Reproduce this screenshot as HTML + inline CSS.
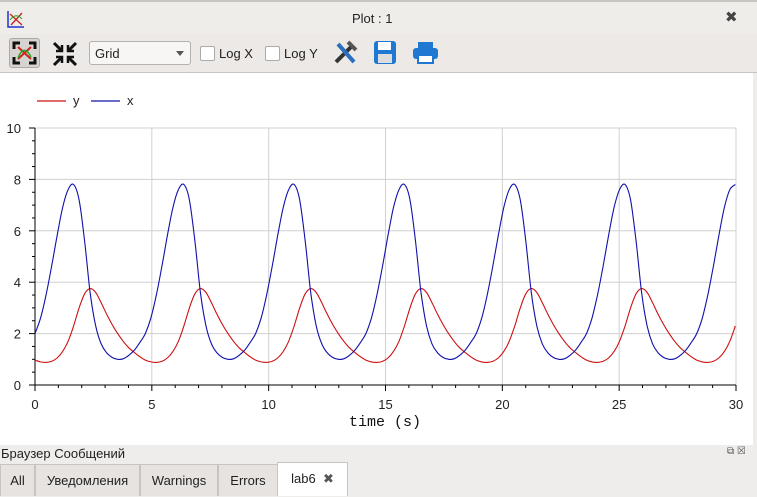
<!DOCTYPE html>
<html><head><meta charset="utf-8"><style>
body{margin:0;width:757px;height:496px;overflow:hidden;background:#efedeb;font-family:"Liberation Sans","DejaVu Sans",sans-serif;font-size:13px;color:#222;position:relative}
.abs{position:absolute}
.tab{position:absolute;top:464px;height:32px;line-height:32px;border:1px solid #c8c5c1;border-bottom:none;background:#e6e3e0;text-align:center;font-size:13px;box-sizing:border-box}
.cb{position:absolute;top:46px;width:13px;height:13px;border:1px solid #aaa;background:#fff;border-radius:2px}
</style></head><body>
<div class="abs" style="left:0;top:0;width:757px;height:34px;background:#efedea;border-top:2px solid #c9c6c2;box-sizing:border-box">
 <svg class="abs" style="left:7px;top:8px" width="18" height="18"><path d="M1 1V17H17" stroke="#2233cc" stroke-width="1.5" fill="none"/><path d="M3 4L15 15M15 3L4 15" stroke="#cc2222" stroke-width="1.3"/><path d="M3 10Q9 2 15 9" stroke="#22aa22" fill="none"/></svg>
 <div class="abs" style="left:352px;top:9px;font-size:13px">Plot : 1</div>
 <div class="abs" style="left:725px;top:6px;font-size:15px;font-weight:bold;color:#444">✖</div>
</div>
<div class="abs" style="left:0;top:34px;width:757px;height:38px;background:#ece9e6;border-bottom:1px solid #c9c6c2">
 <div class="abs" style="left:9px;top:4px;width:31px;height:30px;background:#d6d3d0;border:1px solid #aaa;border-radius:3px;box-sizing:border-box"><svg width="29" height="28"><path d="M4 10V4H10M19 4H25V10M25 18V24H19M10 24H4V18" stroke="#111" stroke-width="3" fill="none"/><path d="M8 8L21 20M21 8L8 20" stroke="#c22" stroke-width="2"/><path d="M8 19Q14 4 21 18" stroke="#2a2" stroke-width="1.5" fill="none"/></svg></div>
 <svg class="abs" style="left:52px;top:7px" width="26" height="26"><path d="M2 2L9 9M24 2L17 9M2 24L9 17M24 24L17 17" stroke="#111" stroke-width="3"/><path d="M10 4V10H4M16 4V10H22M10 22V16H4M16 22V16H22" stroke="#111" stroke-width="2.5" fill="none"/></svg>
 <div class="abs" style="left:89px;top:7px;width:102px;height:24px;background:#f7f6f5;border:1px solid #b5b2ae;border-radius:3px;box-sizing:border-box;padding:4px 5px;font-size:13px">Grid<span style="position:absolute;right:6px;top:9px;border:4px solid transparent;border-top:5px solid #555"></span></div>
 <div class="cb" style="left:200px;top:12px"></div>
 <div class="abs" style="left:219px;top:12px">Log X</div>
 <div class="cb" style="left:265px;top:12px"></div>
 <div class="abs" style="left:284px;top:12px">Log Y</div>
 <svg class="abs" style="left:332px;top:6px" width="26" height="26"><path d="M4 22L20 6" stroke="#333" stroke-width="4"/><path d="M6 4L22 22" stroke="#2a6fc0" stroke-width="4"/><path d="M16 2L24 10" stroke="#555" stroke-width="4"/></svg>
 <svg class="abs" style="left:373px;top:6px" width="24" height="25"><rect x="1" y="1" width="22" height="23" rx="3" fill="#1f78d1"/><rect x="5" y="2" width="13" height="8" fill="#fff"/><rect x="5" y="14" width="14" height="9" fill="#ddd"/></svg>
 <svg class="abs" style="left:413px;top:8px" width="25" height="22"><rect x="5" y="0" width="15" height="6" fill="#1f78d1"/><rect x="0" y="6" width="25" height="11" rx="3" fill="#1f78d1"/><rect x="5" y="13" width="15" height="8" fill="#fff" stroke="#1f78d1" stroke-width="2"/></svg>
</div>
<div class="abs" style="left:0;top:73px;width:753px;height:372px;background:#fff"></div>
<svg id="chart" class="abs" style="left:0;top:0" width="757" height="445"></svg>
<div class="abs" style="left:1px;top:446px;font-size:13px">Браузер Сообщений</div>
<div class="abs" style="left:727px;top:446px;font-size:10px;color:#555">⧉ ☒</div>
<div class="tab" style="left:0;width:35px">All</div>
<div class="tab" style="left:35px;width:105px">Уведомления</div>
<div class="tab" style="left:140px;width:78px">Warnings</div>
<div class="tab" style="left:218px;width:60px">Errors</div>
<div class="tab" style="left:277px;width:71px;top:462px;height:34px;background:#fff">lab6 &nbsp;<b style="color:#555">✖</b></div>
<script>
const xTicks=[0,5,10,15,20,25,30];
const yTicks=[0,2,4,6,8,10];
const dt=0.236;
const seriesX=[2.0,2.6,3.5,4.6,5.8,6.9,7.6,7.8,7.2,5.6,3.6,2.3,1.6,1.25,1.07,1.0,1.02,1.15,1.35,1.65,
2.0,2.6,3.5,4.6,5.8,6.9,7.6,7.8,7.2,5.6,3.6,2.3,1.6,1.25,1.07,1.0,1.02,1.15,1.35,1.65,
2.0,2.6,3.5,4.6,5.8,6.9,7.6,7.8,7.2,5.6,3.6,2.3,1.6,1.25,1.07,1.0,1.02,1.15,1.35,1.65,
2.0,2.6,3.5,4.6,5.8,6.9,7.6,7.8,7.2,5.6,3.6,2.3,1.6,1.25,1.07,1.0,1.02,1.15,1.35,1.65,
2.0,2.6,3.5,4.6,5.8,6.9,7.6,7.8,7.2,5.6,3.6,2.3,1.6,1.25,1.07,1.0,1.02,1.15,1.35,1.65,
2.0,2.6,3.5,4.6,5.8,6.9,7.6,7.8,7.2,5.6,3.6,2.3,1.6,1.25,1.07,1.0,1.02,1.15,1.35,1.65,
2.0,2.6,3.5,4.6,5.8,6.9,7.6,7.8];
const seriesY=[0.97,0.9,0.88,0.92,1.05,1.3,1.7,2.3,3.0,3.55,3.75,3.6,3.2,2.75,2.35,2.0,1.7,1.45,1.27,1.1,
0.97,0.9,0.88,0.92,1.05,1.3,1.7,2.3,3.0,3.55,3.75,3.6,3.2,2.75,2.35,2.0,1.7,1.45,1.27,1.1,
0.97,0.9,0.88,0.92,1.05,1.3,1.7,2.3,3.0,3.55,3.75,3.6,3.2,2.75,2.35,2.0,1.7,1.45,1.27,1.1,
0.97,0.9,0.88,0.92,1.05,1.3,1.7,2.3,3.0,3.55,3.75,3.6,3.2,2.75,2.35,2.0,1.7,1.45,1.27,1.1,
0.97,0.9,0.88,0.92,1.05,1.3,1.7,2.3,3.0,3.55,3.75,3.6,3.2,2.75,2.35,2.0,1.7,1.45,1.27,1.1,
0.97,0.9,0.88,0.92,1.05,1.3,1.7,2.3,3.0,3.55,3.75,3.6,3.2,2.75,2.35,2.0,1.7,1.45,1.27,1.1,
0.97,0.9,0.88,0.92,1.05,1.3,1.7,2.3];
const L=35,R=736,T=128,B=385;
const sx=t=>L+(t/30)*(R-L), sy=v=>B-(v/10)*(B-T);
const svg=document.getElementById('chart'),NS='http://www.w3.org/2000/svg';
function mk(tag,a){const e=document.createElementNS(NS,tag);for(const k in a)e.setAttribute(k,a[k]);svg.appendChild(e);return e;}
xTicks.forEach(t=>{if(t>0){const g=mk('line',{x1:sx(t),x2:sx(t),y1:T,y2:B,stroke:'#d0d0d0'});

}
const s=mk('text',{x:sx(t),y:B+24,'text-anchor':'middle','font-size':13,'font-family':'Liberation Sans, sans-serif',fill:'#222'});s.textContent=t;

});
yTicks.forEach(v=>{if(v>0){const g=mk('line',{x1:L,x2:R,y1:sy(v),y2:sy(v),stroke:'#d0d0d0'});

}
const s=mk('text',{x:L-14,y:sy(v)+5,'text-anchor':'end','font-size':13,'font-family':'Liberation Sans, sans-serif',fill:'#222'});s.textContent=v;

});
mk('rect',{x:L,y:T,width:R-L,height:B-T,fill:'none',stroke:'#d0d0d0'});
for(let t=0;t<=30;t+=1){mk('line',{x1:sx(t),x2:sx(t),y1:B,y2:B+(t%5?3:6),stroke:'#000'});}
for(let v=0;v<=10;v+=0.5){mk('line',{x1:L,x2:L-(v%2?3:6),y1:sy(v),y2:sy(v),stroke:'#000'});}
mk('line',{x1:L,x2:R,y1:B,y2:B,stroke:'#000'});mk('line',{x1:L,x2:L,y1:T,y2:B,stroke:'#000'});
function line(data,color,name){
const P=data.map((v,i)=>[sx(i*dt),sy(v)]);
let d='M'+P[0][0].toFixed(1)+' '+P[0][1].toFixed(1);
for(let i=0;i<P.length-1;i++){const p0=P[Math.max(0,i-1)],p1=P[i],p2=P[i+1],p3=P[Math.min(P.length-1,i+2)];
const c1=[p1[0]+(p2[0]-p0[0])/6,p1[1]+(p2[1]-p0[1])/6],c2=[p2[0]-(p3[0]-p1[0])/6,p2[1]-(p3[1]-p1[1])/6];
d+='C'+c1.map(n=>n.toFixed(1)).join(' ')+' '+c2.map(n=>n.toFixed(1)).join(' ')+' '+p2.map(n=>n.toFixed(1)).join(' ');}
const p=mk('path',{d:d,fill:'none',stroke:color,'stroke-width':1.1,'stroke-linejoin':'round'});

}
line(seriesY,'#cc1111','series-y');line(seriesX,'#1111aa','series-x');
const xl=mk('text',{x:385,y:426,'text-anchor':'middle','font-size':15,'font-family':'Liberation Mono, monospace',fill:'#111'});xl.textContent='time (s)';


[['y','#cc1111',37],['x','#1111aa',91]].forEach(([n,c,x0])=>{
const l=mk('line',{x1:x0,x2:x0+29,y1:101,y2:101,stroke:c,'stroke-width':1.2});


const tx=mk('text',{x:x0+36,y:105,'font-size':13,'font-family':'Liberation Sans, sans-serif',fill:'#222'});tx.textContent=n;

});
</script>
</body></html>
